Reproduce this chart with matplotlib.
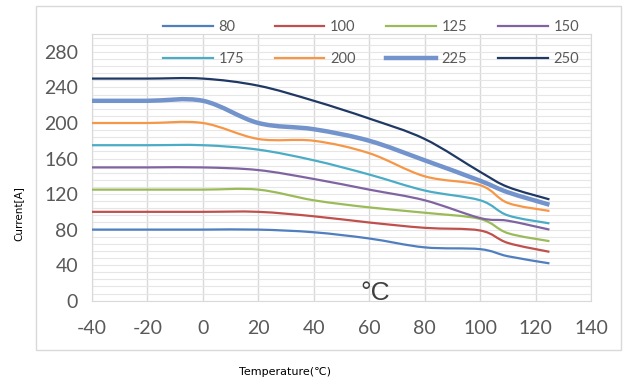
import numpy as np
import matplotlib
matplotlib.use("Agg")
import matplotlib.pyplot as plt
from matplotlib.path import Path
from matplotlib.patches import PathPatch, Rectangle
from matplotlib.lines import Line2D

# temperature points (degC) and current curves (A)
temps = [-40, -20, 0, 20, 40, 60, 80, 100, 110, 125]
labels = ['80', '100', '125', '150', '175', '200', '225', '250']
cur_80 = [80, 80, 80, 80, 77, 70, 60, 58, 50, 42]
cur_100 = [100, 100, 100, 100, 95, 88, 82, 79, 65, 55]
cur_125 = [125, 125, 125, 125, 113, 105, 99, 92, 76, 67]
cur_150 = [150, 150, 150, 147, 137, 125, 113, 93, 90, 80]
cur_175 = [175, 175, 175, 170, 158, 142, 124, 113, 96, 87]
cur_200 = [200, 200, 200, 182, 180, 166, 140, 130, 110, 101]
cur_225 = [225, 225, 225, 200, 193, 180, 158, 135, 122, 108]
cur_250 = [250, 250, 250, 242, 225, 205, 182, 145, 128, 114]
series = [cur_80, cur_100, cur_125, cur_150, cur_175, cur_200, cur_225, cur_250]

colors = ['#4f7fbe', '#c0504d', '#9bbb59', '#8064a2', '#4bacc6', '#f79646', '#7293cb', '#1f3864']
widths = [1.6, 1.6, 1.6, 1.6, 1.6, 1.6, 3.2, 1.6]


def smooth_path(xs, ys):
    # Excel-like smoothed line: Catmull-Rom segments as cubic Bezier
    xs = np.asarray(xs, float)
    ys = np.asarray(ys, float)
    pts = np.column_stack([xs, ys])
    n = len(pts)
    verts = [pts[0]]
    codes = [Path.MOVETO]
    for i in range(n - 1):
        p0 = pts[i - 1] if i > 0 else pts[i]
        p1 = pts[i]
        p2 = pts[i + 1]
        p3 = pts[i + 2] if i + 2 < n else pts[i + 1]
        c1 = p1 + (p2 - p0) / 6.0
        c2 = p2 - (p3 - p1) / 6.0
        verts += [c1, c2, p2]
        codes += [Path.CURVE4] * 3
    return Path(verts, codes)


plt.rcParams['font.family'] = ['Lato', 'DejaVu Sans']
plt.rcParams['axes.unicode_minus'] = False

fig = plt.figure(figsize=(6.23, 3.84), dpi=100)
fig.patches.append(Rectangle((0.058, 0.088), 0.938, 0.896, transform=fig.transFigure,
                             fill=False, edgecolor='#d9d9d9', linewidth=1.0))

ax = fig.add_axes([0.1477, 0.217, 0.801, 0.694])
ax.set_xlim(-40, 140)
ax.set_ylim(0, 300)
ax.set_xticks(np.arange(-40, 141, 20))
ax.set_yticks(np.arange(0, 281, 40))
ax.set_yticks(np.arange(0, 301, 8), minor=True)
ax.grid(which='major', axis='x', color='#d9d9d9', linewidth=1.0)
ax.grid(which='minor', axis='y', color='#e6e6e6', linewidth=0.8)
ax.grid(which='major', axis='y', color='#e6e6e6', linewidth=0.8)
ax.set_axisbelow(True)
for s in ax.spines.values():
    s.set_color('#d9d9d9')
ax.tick_params(which='both', length=0, labelsize=14, labelcolor='#595959')
ax.tick_params(axis='x', pad=14)
ax.tick_params(axis='y', pad=10)

for vals, c, w in zip(series, colors, widths):
    ax.add_patch(PathPatch(smooth_path(temps, vals), fill=False, edgecolor=c,
                           linewidth=w, capstyle='butt', zorder=3))

# legend fills column by column, so order entries to read row by row
handles = [Line2D([], [], color=c, linewidth=w) for c, w in zip(colors, widths)]
order = [0, 4, 1, 5, 2, 6, 3, 7]
fig.legend([handles[i] for i in order], [labels[i] for i in order], ncol=4,
           loc='upper left', bbox_to_anchor=(0.25, 0.966),
           frameon=False, fontsize=10.5, handlelength=3.4, handletextpad=0.4,
           columnspacing=2.1, labelspacing=1.2, borderpad=0,
           labelcolor='#595959')

ax.text(62, 9, '°C', ha='center', va='center', fontsize=19, color='#404040',
        family=['Liberation Sans', 'DejaVu Sans'])

fig.text(0.029, 0.445, 'Current[A]', rotation=90, ha='center', va='center',
         fontsize=7.5, family=['Liberation Sans Narrow', 'DejaVu Sans'])
fig.text(0.458, 0.031, 'Temperature(℃)', ha='center', va='center',
         fontsize=8, family=['Liberation Sans Narrow', 'DejaVu Sans'])

fig.savefig('out.png', dpi=100)
